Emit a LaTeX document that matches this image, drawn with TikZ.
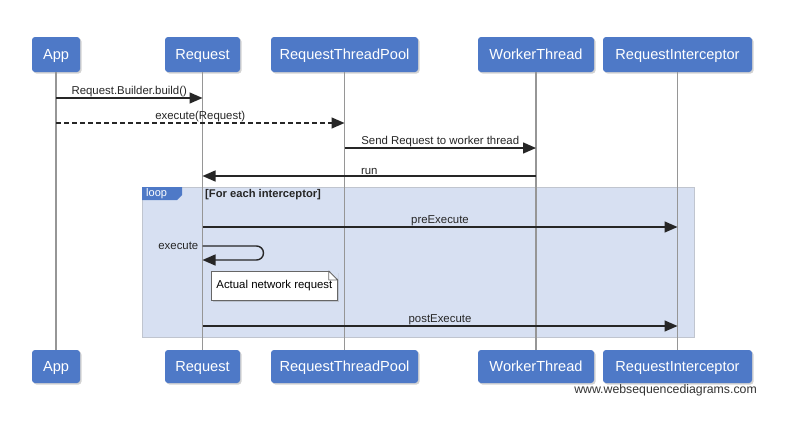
\documentclass[tikz,border=0pt]{standalone}
\usepackage{fontspec}
\setmainfont{Liberation Sans}
\usetikzlibrary{arrows.meta,shadows}
\definecolor{boxblue}{RGB}{78,121,199}
\definecolor{loopfill}{RGB}{215,224,242}
\definecolor{loopline}{RGB}{192,197,207}
\definecolor{lifegray}{RGB}{150,150,150}
\begin{document}
\begin{tikzpicture}[x=1pt,y=-1pt,
 actor/.style={draw=none, fill=boxblue, text=white, rounded corners=3pt, inner sep=0pt,
   font=\fontsize{14.6}{16}\selectfont, text height=12pt, text depth=2pt,
   drop shadow={shadow xshift=1.5pt,shadow yshift=-1.5pt,opacity=0.35}},
 life/.style={draw=lifegray, line width=1.3pt},
 msg/.style={draw=black!85, line width=1.4pt, -{Triangle[length=13pt,width=11pt]}},
 lbl/.style={font=\fontsize{11.4}{13}\selectfont, text=black!85, inner sep=0.5pt, anchor=south},
 notebox/.style={fill=white, draw=black!60, line width=0.8pt, inner sep=0pt,
   minimum width=126pt, minimum height=29pt, font=\fontsize{11.4}{13}\selectfont, anchor=north west,
   drop shadow={shadow xshift=2pt,shadow yshift=-2pt,opacity=0.3}},
]
\fill[white] (0,0) rectangle (800,434);
\useasboundingbox (0,0) rectangle (800,434);

% participants (top)
\node[actor, minimum width=48pt, minimum height=35pt]  (appT)  at (56,54.5)    {App};
\node[actor, minimum width=75pt, minimum height=35pt]  (reqT)  at (202.5,54.5) {Request};
\node[actor, minimum width=147pt, minimum height=35pt] (poolT) at (344.5,54.5) {RequestThreadPool};
\node[actor, minimum width=116pt, minimum height=35pt] (workT) at (536,54.5)   {WorkerThread};
\node[actor, minimum width=149pt, minimum height=35pt] (intT)  at (677.5,54.5) {RequestInterceptor};
% participants (bottom)
\node[actor, minimum width=48pt, minimum height=33pt]  (appB)  at (56,366.5)    {App};
\node[actor, minimum width=75pt, minimum height=33pt]  (reqB)  at (202.5,366.5) {Request};
\node[actor, minimum width=147pt, minimum height=33pt] (poolB) at (344.5,366.5) {RequestThreadPool};
\node[actor, minimum width=116pt, minimum height=33pt] (workB) at (536,366.5)   {WorkerThread};
\node[actor, minimum width=149pt, minimum height=33pt] (intB)  at (677.5,366.5) {RequestInterceptor};

% loop frame
\node[fill=loopfill, draw=loopline, line width=1pt, minimum width=552pt, minimum height=150pt,
      inner sep=0pt, anchor=north west] (loop) at (142,187) {};

% lifelines
\draw[life] (appT.south) -- (appB.north);
\draw[life] (reqT.south) -- (reqB.north);
\draw[life] (poolT.south) -- (poolB.north);
\draw[life] (workT.south) -- (workB.north);
\draw[life] (intT.south) -- (intB.north);

% loop tab
\fill[boxblue] (loop.north west) -- ++(40,0) -- ++(0,8) -- ++(-5,5) -- ++(-35,0) -- cycle;
\node[anchor=west, inner sep=0pt, text=white, font=\fontsize{11}{12}\selectfont] (looplbl) at (146,194) {loop};
\node[anchor=west, inner sep=0pt, text=black!85, font=\bfseries\fontsize{11.2}{13}\selectfont] (guard) at (205,195) {[For each interceptor]};

% message rows
\coordinate (m1) at (0,98);
\coordinate (m2) at (0,123);
\coordinate (m3) at (0,148);
\coordinate (m4) at (0,176);
\coordinate (m5) at (0,227);
\coordinate (m6) at (0,246);
\coordinate (m6b) at (0,260);
\coordinate (m7) at (0,326);

\draw[msg] (appT |- m1) -- node[lbl] {Request.Builder.build()} (reqT |- m1);
\draw[msg, dash pattern=on 5pt off 3pt] (appT |- m2) -- node[lbl] {execute(Request)} (poolT |- m2);
\draw[msg] (poolT |- m3) -- node[lbl] {Send Request to worker thread} (workT |- m3);
\draw[msg] (workT |- m4) -- node[lbl] {run} (reqT |- m4);
\draw[msg] (reqT |- m5) -- node[lbl] {preExecute} (intT |- m5);
\draw[msg, rounded corners=7pt] (reqT |- m6) -- ++(61,0) -- ++(0,14) -- (reqT |- m6b);
\node[anchor=east, inner sep=0pt, font=\fontsize{11.4}{13}\selectfont, text=black!85] (execlbl)
  at ([xshift=-4pt]reqT |- m6) {execute};
\draw[msg] (reqT |- m7) -- node[lbl] {postExecute} (intT |- m7);

% note
\node[notebox] (note) at (211,271) {Actual network request};
\fill[loopfill] ([xshift=-9pt,yshift=0.8pt]note.north east) -- ([xshift=0.8pt,yshift=0.8pt]note.north east)
   -- ([xshift=0.8pt,yshift=-9pt]note.north east) -- cycle;
\draw[black!60, line width=0.8pt, line join=round] ([xshift=-9pt]note.north east) -- ([yshift=-9pt]note.north east)
   -- ([xshift=-9pt,yshift=-9pt]note.north east) -- cycle;

% watermark
\node[anchor=north east, inner sep=0pt, font=\fontsize{12.3}{14}\selectfont, text=black!80] (wm)
  at (757,384) {www.websequencediagrams.com};
\end{tikzpicture}
\end{document}
